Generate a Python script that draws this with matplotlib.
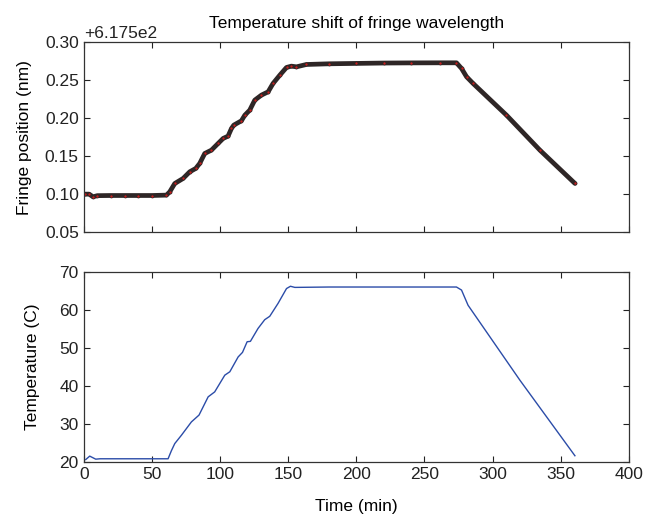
import matplotlib
matplotlib.use("Agg")
import matplotlib.pyplot as plt
from matplotlib.ticker import ScalarFormatter

plt.rcParams['font.family'] = ['Liberation Sans', 'DejaVu Sans']

# fringe position (nm, minus the 617.5 offset) vs time (min)
t_fringe = [1.0, 4.0, 6.8, 10, 20, 30, 40, 50, 60.7, 63.1, 66.8, 72.9, 77.8, 82.2,
            85.1, 88.8, 93.7, 98.6, 102.3, 105.9, 108.4, 110.1, 115.7, 118.2,
            121.8, 125.5, 130.4, 135.3, 138.9, 143.9, 148.8, 152.4, 156.1, 163.4,
            180, 200, 220, 240, 261.3, 273.5, 277.2, 280.9, 285.7, 310.2, 334.7,
            360.4]
fringe = [0.1000, 0.1000, 0.0965, 0.0980, 0.0982, 0.0982, 0.0982, 0.0982, 0.0987,
          0.1030, 0.1140, 0.1206, 0.1294, 0.1338, 0.1404, 0.1535, 0.1579, 0.1667,
          0.1733, 0.1763, 0.1864, 0.1908, 0.1965, 0.2039, 0.2105, 0.2237, 0.2303,
          0.2346, 0.2456, 0.2566, 0.2667, 0.2684, 0.2675, 0.2706, 0.2715, 0.2720,
          0.2725, 0.2727, 0.2728, 0.2728, 0.2654, 0.2544, 0.2456, 0.2039, 0.1579,
          0.1141]
offset = 617.5

# temperature (C) vs time (min)
t_temp = [1.5, 4.4, 8.8, 12, 30, 55.8, 61.9, 64.3, 66.8, 71.7, 79.0, 84.6, 91.3,
          96.1, 103.5, 107.2, 113.3, 116.5, 119.9, 122.3, 127.9, 132.8, 136.5,
          142.6, 148.8, 151.7, 154.9, 180, 220, 250, 273.5, 277.2, 282.0, 320,
          360.4]
temp = [20.7, 21.6, 20.8, 20.9, 20.9, 20.9, 20.9, 23.0, 24.9, 27.1, 30.6, 32.4,
        37.2, 38.5, 42.9, 43.8, 47.7, 48.9, 51.7, 51.8, 55.2, 57.5, 58.4, 61.8,
        65.7, 66.3, 66.0, 66.1, 66.1, 66.1, 66.1, 65.3, 61.3, 41.6, 21.7]

fig = plt.figure(figsize=(6.49, 5.17), dpi=100)
ax1 = fig.add_axes([0.129, 0.551, 0.840, 0.3675])
ax2 = fig.add_axes([0.129, 0.106, 0.840, 0.3675])

yf = [v + offset for v in fringe]
ax1.plot(t_fringe, yf, color='#2e2626', linewidth=3.4, solid_capstyle='round',
         solid_joinstyle='round')
ax1.plot(t_fringe, yf, linestyle='none', marker='o', markersize=2.2,
         markerfacecolor='#c81e1e', markeredgecolor='#2e2626', markeredgewidth=0.5)
ax1.set_xlim(0, 400)
ax1.set_ylim(offset + 0.05, offset + 0.30)
ax1.set_yticks([offset + v for v in [0.05, 0.10, 0.15, 0.20, 0.25, 0.30]])
ax1.yaxis.set_major_formatter(ScalarFormatter(useOffset=offset))
ax1.set_xticks(range(0, 401, 50))
ax1.set_xticklabels([])
ax1.set_ylabel('Fringe position (nm)', fontsize=12.5, labelpad=9)
ax1.set_title('Temperature shift of fringe wavelength', fontsize=12.5, pad=10)

ax2.plot(t_temp, temp, color='#2b4ca8', linewidth=1.0)
ax2.set_xlim(0, 400)
ax2.set_ylim(20, 70)
ax2.set_xticks(range(0, 401, 50))
ax2.set_yticks(range(20, 71, 10))
ax2.set_xlabel('Time (min)', fontsize=12.5, labelpad=12)
ax2.set_ylabel('Temperature (C)', fontsize=12.5, labelpad=14)

for ax in (ax1, ax2):
    ax.tick_params(direction='in', top=True, right=True, labelsize=12.5,
                   length=4, width=0.8, colors='#222222')
    for s in ax.spines.values():
        s.set_linewidth(0.9)
        s.set_color('#333333')
ax1.yaxis.get_offset_text().set_fontsize(12.5)

fig.savefig('out.png', dpi=100)
